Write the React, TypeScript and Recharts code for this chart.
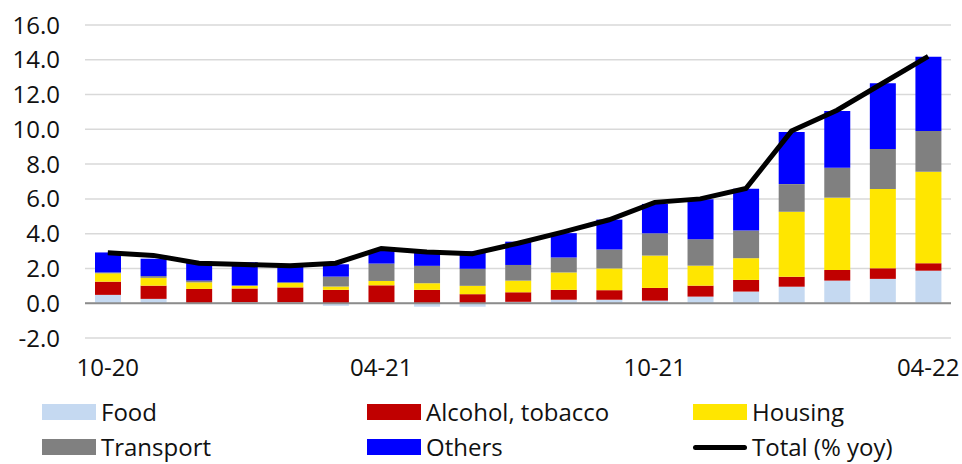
import React from 'react';
import { ComposedChart, Bar, Line, XAxis, YAxis, CartesianGrid, ReferenceLine, Legend } from 'recharts';

const months = ['10-20', '11-20', '12-20', '01-21', '02-21', '03-21', '04-21', '05-21', '06-21', '07-21', '08-21', '09-21', '10-21', '11-21', '12-21', '01-22', '02-22', '03-22', '04-22'];
const food = [0.48, 0.25, 0.02, 0.05, 0.05, -0.15, 0.03, -0.2, -0.2, 0.08, 0.2, 0.2, 0.15, 0.38, 0.67, 0.95, 1.3, 1.4, 1.87];
const alcohol = [0.76, 0.76, 0.8, 0.8, 0.86, 0.77, 1.0, 0.77, 0.52, 0.55, 0.57, 0.55, 0.73, 0.63, 0.67, 0.57, 0.61, 0.61, 0.43];
const housing = [0.48, 0.45, 0.38, 0.15, 0.25, 0.19, 0.25, 0.38, 0.48, 0.67, 1.0, 1.25, 1.86, 1.15, 1.25, 3.74, 4.16, 4.56, 5.26];
const transport = [0.05, 0.1, 0.1, 0.02, 0.05, 0.57, 1.0, 1.0, 0.98, 0.9, 0.86, 1.09, 1.28, 1.52, 1.59, 1.59, 1.72, 2.3, 2.34];
const others = [1.15, 1.0, 1.1, 1.34, 0.96, 0.71, 0.77, 0.86, 1.0, 1.34, 1.4, 1.72, 1.69, 2.3, 2.4, 3.0, 3.26, 3.78, 4.27];
const total = [2.9, 2.75, 2.3, 2.22, 2.15, 2.3, 3.15, 2.95, 2.85, 3.45, 4.1, 4.8, 5.8, 6.0, 6.6, 9.9, 11.1, 12.65, 14.2];
const yTicks = [-2, 0, 2, 4, 6, 8, 10, 12, 14, 16];

const data = months.map((m, i) => ({
  month: m,
  food: food[i],
  alcohol: alcohol[i],
  housing: housing[i],
  transport: transport[i],
  others: others[i],
  total: total[i],
}));

const FONT = '"Open Sans", sans-serif';

const legendItems = [
  { label: 'Food', color: '#c5d9f1', line: false },
  { label: 'Alcohol, tobacco', color: '#c00000', line: false },
  { label: 'Housing', color: '#ffe600', line: false },
  { label: 'Transport', color: '#808080', line: false },
  { label: 'Others', color: '#0000ff', line: false },
  { label: 'Total (% yoy)', color: '#000000', line: true },
];

const colLeft = [42, 367, 693];

// two rows of three, drawn below the x axis
const LegendBox = () => (
  <div style={{ position: 'relative', width: 962, height: 81, fontFamily: FONT, fontSize: 24, color: '#111' }}>
    {legendItems.map((it, i) => {
      const row = Math.floor(i / 3);
      const col = i % 3;
      return (
        <div key={it.label} style={{ position: 'absolute', left: colLeft[col], top: 17 + row * 35, height: 24, display: 'flex', alignItems: 'center', lineHeight: '24px' }}>
          {it.line ? (
            <div style={{ width: 54, height: 5, background: it.color, borderRadius: 3, marginRight: 5 }} />
          ) : (
            <div style={{ width: 54, height: 16, background: it.color, marginRight: 5 }} />
          )}
          <span style={{ whiteSpace: 'nowrap' }}>{it.label}</span>
        </div>
      );
    })}
  </div>
);

export default function App() {
  return (
    <div style={{ position: 'absolute', left: 0, top: 0, width: 962, height: 464, background: '#fff' }}>
      <ComposedChart
        width={962}
        height={464}
        data={data}
        stackOffset="sign"
        margin={{ top: 25, right: 11, left: 0, bottom: 0 }}
        barSize={26}
      >
        <CartesianGrid vertical={false} stroke="#d9d9d9" strokeWidth={1.5} />
        <YAxis
          width={85}
          domain={[-2, 16]}
          ticks={yTicks}
          allowDataOverflow
          axisLine={false}
          tickLine={false}
          tickMargin={19}
          tickFormatter={(v: number) => v.toFixed(1)}
          tick={{ fill: '#111', fontSize: 24, fontFamily: FONT }}
        />
        <XAxis
          dataKey="month"
          height={45}
          interval={5}
          axisLine={false}
          tickLine={false}
          tickMargin={15}
          tick={{ fill: '#111', fontSize: 24, fontFamily: FONT }}
        />
        <ReferenceLine y={0} stroke="#8c8c8c" strokeWidth={2} />
        <Bar dataKey="food" name="Food" stackId="a" fill="#c5d9f1" isAnimationActive={false} />
        <Bar dataKey="alcohol" name="Alcohol, tobacco" stackId="a" fill="#c00000" isAnimationActive={false} />
        <Bar dataKey="housing" name="Housing" stackId="a" fill="#ffe600" isAnimationActive={false} />
        <Bar dataKey="transport" name="Transport" stackId="a" fill="#808080" isAnimationActive={false} />
        <Bar dataKey="others" name="Others" stackId="a" fill="#0000ff" isAnimationActive={false} />
        <Line dataKey="total" name="Total (% yoy)" type="linear" stroke="#000" strokeWidth={5} dot={false} activeDot={false} isAnimationActive={false} />
        <Legend verticalAlign="bottom" height={81} content={() => <LegendBox />} />
      </ComposedChart>
    </div>
  );
}
